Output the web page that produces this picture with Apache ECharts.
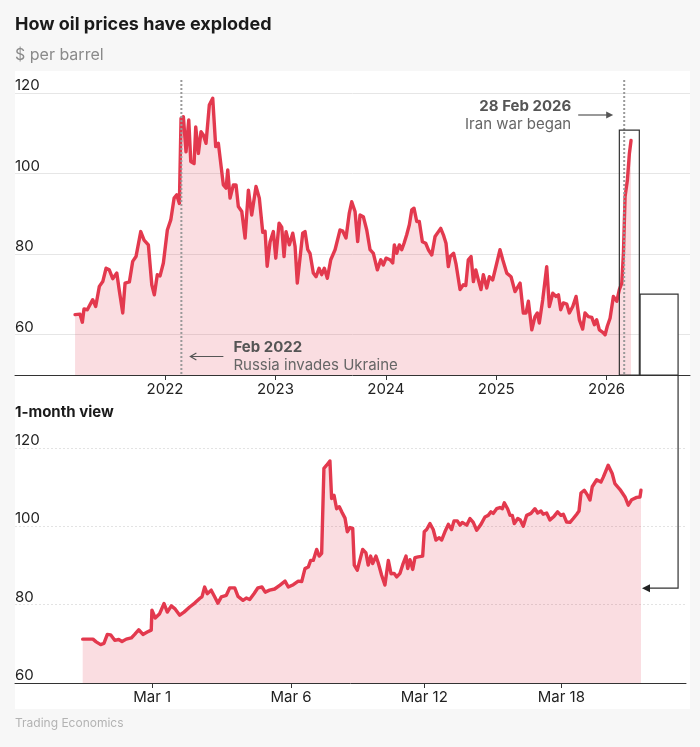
<!DOCTYPE html>
<html>
<head>
<meta charset="utf-8">
<script src="https://cdn.jsdelivr.net/npm/echarts@6/dist/echarts.min.js"></script>
<style>
html,body{margin:0;padding:0;background:#f7f7f7;}
#panel{position:absolute;left:15px;top:71px;width:675px;height:638px;background:#fff;}
#c{position:absolute;left:0;top:0;width:700px;height:747px;}
</style>
</head>
<body>
<div id="panel"></div>
<div id="c"></div>
<script>
// ---- Long view (5 years), x = decimal year, y = $ per barrel ----
const longYears = [
2021.185,2021.230,2021.251,2021.266,2021.296,2021.345,2021.372,2021.405,2021.436,2021.466,
2021.495,2021.526,2021.563,2021.586,2021.599,2021.617,2021.638,2021.677,2021.707,2021.737,
2021.780,2021.810,2021.849,2021.880,2021.903,2021.930,2021.955,2021.985,2022.021,2022.052,
2022.082,2022.106,2022.130,2022.145,2022.166,2022.190,2022.215,2022.233,2022.263,2022.278,
2022.302,2022.326,2022.347,2022.371,2022.401,2022.432,2022.459,2022.483,2022.528,2022.553,
2022.568,2022.589,2022.619,2022.643,2022.664,2022.695,2022.725,2022.755,2022.785,2022.824,
2022.854,2022.885,2022.906,2022.925,2022.951,2022.981,2023.003,2023.033,2023.057,2023.078,
2023.096,2023.126,2023.157,2023.178,2023.198,2023.247,2023.268,2023.293,2023.313,2023.343,
2023.368,2023.395,2023.419,2023.443,2023.470,2023.501,2023.540,2023.585,2023.610,2023.639,
2023.669,2023.691,2023.721,2023.745,2023.766,2023.796,2023.827,2023.857,2023.887,2023.923,
2023.954,2023.977,2024.002,2024.038,2024.062,2024.077,2024.099,2024.122,2024.144,2024.165,
2024.189,2024.213,2024.235,2024.255,2024.280,2024.303,2024.331,2024.361,2024.385,2024.416,
2024.446,2024.461,2024.497,2024.521,2024.545,2024.566,2024.583,2024.614,2024.636,2024.672,
2024.702,2024.724,2024.747,2024.772,2024.793,2024.815,2024.838,2024.862,2024.883,2024.914,
2024.938,2024.968,2025.005,2025.034,2025.059,2025.095,2025.134,2025.170,2025.216,2025.245,
2025.270,2025.291,2025.322,2025.351,2025.372,2025.390,2025.421,2025.457,2025.481,2025.512,
2025.542,2025.563,2025.584,2025.608,2025.639,2025.662,2025.693,2025.723,2025.753,2025.783,
2025.804,2025.834,2025.865,2025.889,2025.910,2025.934,2025.965,2025.986,2026.006,2026.031,
2026.061,2026.092,2026.115,2026.137,2026.152,2026.167,2026.188,2026.206,2026.221
];
const longPrices = [
65.0,65.1,63.1,66.4,66.2,68.7,67.0,72.0,73.2,76.5,
76.1,73.9,75.3,70.9,70.8,65.4,72.8,73.1,78.2,79.4,
85.6,83.5,82.3,72.4,69.9,74.9,74.6,77.8,86.0,88.5,
93.9,94.7,92.6,113.7,114.1,105.4,113.3,103.0,102.5,111.6,
105.0,110.4,109.6,107.5,117.0,118.7,106.7,107.5,97.2,96.4,
100.9,93.9,97.2,97.2,91.8,90.6,84.0,95.9,89.7,96.8,
93.9,85.4,85.7,77.0,83.0,85.6,79.0,87.7,86.7,79.4,
85.6,82.3,85.2,81.9,72.8,85.2,85.6,81.1,80.2,75.3,
74.4,76.5,74.9,76.5,74.0,78.6,81.1,86.0,85.7,84.0,
90.2,93.0,90.6,83.1,89.7,89.3,86.0,81.1,80.2,76.1,
78.6,77.3,79.0,78.6,77.8,82.3,80.2,82.3,81.1,82.7,
84.8,87.3,91.0,91.4,88.1,88.1,83.1,82.7,81.1,79.8,
84.4,84.8,86.4,84.8,82.7,76.9,79.4,80.2,77.5,71.2,
72.4,72.2,78.6,79.4,73.2,76.1,73.6,71.2,74.9,71.6,
74.4,73.6,77.8,81.1,78.6,75.3,74.4,70.7,72.8,65.4,
65.4,68.3,61.2,64.5,65.4,62.9,68.7,76.9,67.0,70.3,
69.5,69.9,66.2,67.9,67.6,65.4,67.0,69.5,63.7,61.4,
65.4,64.5,64.3,62.5,63.7,61.2,60.6,60.0,62.1,64.1,
69.5,68.3,71.2,72.8,80.2,94.3,98.4,105.0,108.2
];
const yearTicks = [2022, 2023, 2024, 2025, 2026];
const priceTicks = [60, 80, 100, 120];
const ukraineDate = 2022.148;   // 24 Feb 2022
const iranDate = 2026.159;      // 28 Feb 2026

// ---- 1-month view, x = trading hours since first point ----
const monthHours = [
0,7.2,9.5,12.6,14.9,17.3,19.6,22.5,25.3,27.6,30.6,34.1,36.5,39.3,42.3,45.3,48.1,48.6,50.9,54.0,
57.1,59.4,62.2,64.6,68.1,71.1,75.1,78.6,82.1,83.7,85.6,87.4,90.2,92.6,94.9,97.3,100.8,103.2,106.7,109.0,
112.5,114.8,117.2,120.2,123.0,125.8,128.1,131.2,134.7,138.5,142.0,144.3,147.8,151.3,153.7,156.0,158.3,160.0,161.8,164.2,
166.0,167.7,169.3,171.2,173.5,174.7,176.4,178.2,180.1,181.8,184.1,185.7,187.6,189.5,190.6,192.7,194.1,196.5,198.8,200.4,
202.1,203.5,205.8,207.4,209.8,212.1,214.5,216.4,218.5,220.4,222.7,224.6,226.9,228.1,229.7,231.6,233.2,235.5,238.6,239.7,
241.4,243.7,246.0,247.9,250.2,251.9,254.2,256.6,258.9,260.6,262.9,264.8,266.4,269.5,271.8,274.1,276.5,279.5,282.3,284.6,
286.5,288.1,290.5,292.8,294.5,295.9,298.2,299.9,301.5,302.9,305.3,307.1,309.2,311.6,314.6,317.4,319.3,321.6,323.2,325.6,
327.9,330.9,333.3,335.6,337.3,339.6,342.0,344.3,346.7,348.3,349.7,352.0,354.4,356.0,357.6,360.7,363.7,365.3,368.8,371.6,
373.5,377.1,380.6,382.9,385.3,388.8,391.1,391.8
];
const monthPrices = [
71.2,71.2,70.5,69.8,70.1,72.4,72.3,70.9,71.1,70.6,71.2,71.5,72.4,73.6,72.4,73.0,73.5,78.6,76.6,77.7,
80.3,78.1,79.7,79.0,77.3,78.1,79.4,80.4,81.6,82.0,84.5,82.8,83.7,82.0,80.4,82.0,82.4,84.3,84.3,82.1,
81.1,81.7,81.3,82.8,84.3,84.5,83.2,83.7,84.0,85.0,86.0,84.5,85.1,86.0,85.9,89.2,89.6,91.3,91.3,94.1,
92.4,93.1,114.8,115.6,116.7,107.1,107.9,104.5,105.0,103.7,102.1,98.6,99.7,99.5,90.1,88.8,89.0,94.1,93.2,90.1,
92.4,90.5,92.4,90.7,87.5,85.0,91.3,87.9,88.0,87.1,88.0,90.2,92.4,89.2,91.5,89.0,92.0,92.2,92.4,98.6,
99.2,100.7,99.2,96.5,97.1,96.5,98.6,100.5,99.2,101.4,101.4,100.3,101.0,100.3,102.0,101.0,99.0,100.5,102.4,102.8,
103.7,103.3,104.5,104.8,104.5,106.0,104.5,102.8,102.8,100.7,102.0,101.6,100.0,102.8,103.3,104.5,103.4,103.9,103.1,103.4,
101.6,102.6,103.7,102.8,103.1,101.1,101.0,102.0,103.1,103.9,108.5,109.2,107.9,106.7,110.1,111.9,111.3,112.5,115.6,113.5,
110.9,109.4,107.5,105.4,106.8,107.4,107.5,109.2
];
const monthTickPos = [48.8, 146.2, 239.7, 335.9];
const monthTickLabels = ['Mar 1', 'Mar 6', 'Mar 12', 'Mar 18'];
const monthPriceTicks = [60, 80, 100, 120];

const FONT = 'Inter, "Noto Sans", sans-serif';
const RED = '#e3394e';
const AREA = 'rgba(224,52,76,0.24)';

const chart = echarts.init(document.getElementById('c'));
chart.setOption({
  animation: false,
  textStyle: { fontFamily: FONT },
  grid: [
    { left: 15, right: 10, top: 93, bottom: 372 },
    { left: 15, right: 14, top: 448, bottom: 64 }
  ],
  xAxis: [
    {
      gridIndex: 0, type: 'value', min: 2020.641, max: 2026.755,
      axisLine: { show: true, onZero: false, lineStyle: { color: '#333', width: 1 } },
      axisTick: { show: true, customValues: yearTicks, length: 5, lineStyle: { color: '#333' } },
      axisLabel: { customValues: yearTicks, formatter: v => String(Math.round(v)), color: '#222', fontSize: 15, margin: 7, fontFamily: FONT },
      splitLine: { show: false }
    },
    {
      gridIndex: 1, type: 'value', min: -47.5, max: 423.4,
      axisLine: { show: true, onZero: false, lineStyle: { color: '#333', width: 1 } },
      axisTick: { show: true, customValues: monthTickPos, length: 5, lineStyle: { color: '#333' } },
      axisLabel: {
        customValues: monthTickPos,
        formatter: v => { const i = monthTickPos.findIndex(p => Math.abs(p - v) < 1e-6); return i >= 0 ? monthTickLabels[i] : ''; },
        color: '#222', fontSize: 15, margin: 7, fontFamily: FONT
      },
      splitLine: { show: false }
    }
  ],
  yAxis: [
    {
      gridIndex: 0, type: 'value', min: 50, max: 120,
      axisLine: { show: false },
      axisTick: { show: false, customValues: priceTicks },
      axisLabel: { customValues: priceTicks, inside: true, verticalAlign: 'bottom', margin: 0, padding: [0, 0, 0, 0], color: '#222', fontSize: 15, fontFamily: FONT },
      splitLine: { show: true, lineStyle: { color: '#e6e6e6', width: 1 } }
    },
    {
      gridIndex: 1, type: 'value', min: 60, max: 120, interval: 20,
      axisLine: { show: false },
      axisTick: { show: false },
      axisLabel: { inside: true, verticalAlign: 'bottom', margin: 0, padding: [0, 0, 0, 0], color: '#222', fontSize: 15, fontFamily: FONT },
      splitLine: { show: true, lineStyle: { color: '#e3e3e3', width: 1, type: [2, 2] } }
    }
  ],
  series: [
    {
      type: 'line', xAxisIndex: 0, yAxisIndex: 0,
      data: longYears.map((x, i) => [x, longPrices[i]]),
      showSymbol: false, symbol: 'none',
      lineStyle: { color: RED, width: 3.4, join: 'round', cap: 'round' },
      areaStyle: { color: AREA, origin: 'start' },
      z: 3
    },
    {
      type: 'line', xAxisIndex: 1, yAxisIndex: 1,
      data: monthHours.map((x, i) => [x, monthPrices[i]]),
      showSymbol: false, symbol: 'none',
      lineStyle: { color: RED, width: 3.4, join: 'round', cap: 'round' },
      areaStyle: { color: AREA, origin: 'start' },
      z: 3
    }
  ]
});

const px = (g, x, y) => chart.convertToPixel({ gridIndex: g }, [x, y]);
function txt(text, x, y, size, weight, color, align) {
  return {
    type: 'text', z: 20, silent: true,
    style: {
      text: text, x: x, y: y,
      font: (weight || 'normal') + ' ' + size + 'px ' + FONT,
      fill: color, align: align || 'left', textAlign: align || 'left',
      verticalAlign: 'middle', textVerticalAlign: 'middle'
    }
  };
}
const g = [];
// titles
g.push(txt('How oil prices have exploded', 15, 25, 18, 'bold', '#1a1a1a'));
g.push(txt('$ per barrel', 15, 55, 16, 'normal', '#8a8a8a'));
g.push(txt('1-month view', 15, 412, 15, 'bold', '#1a1a1a'));
g.push(txt('Trading Economics', 15, 723, 12, 'normal', '#b3b3b3'));

// event dotted lines
[ukraineDate, iranDate].forEach(d => {
  const b = px(0, d, 50), t = px(0, d, 123.2);
  g.push({ type: 'line', z: 15, silent: true,
    shape: { x1: b[0], y1: t[1], x2: b[0], y2: b[1] },
    style: { stroke: '#9a9a9a', lineWidth: 2, lineDash: [2, 2] } });
});

// Ukraine annotation
const uk = px(0, ukraineDate, 50)[0];
g.push({ type: 'line', z: 20, silent: true, shape: { x1: uk + 42, y1: 356.5, x2: uk + 9, y2: 356.5 }, style: { stroke: '#555', lineWidth: 1.2 } });
g.push({ type: 'polyline', z: 20, silent: true, shape: { points: [[uk + 15, 353], [uk + 9, 356.5], [uk + 15, 360]] }, style: { stroke: '#555', lineWidth: 1.2, fill: null } });
g.push(txt('Feb 2022', uk + 52, 347, 15, 'bold', '#555'));
g.push(txt('Russia invades Ukraine', uk + 52, 365, 15, 'normal', '#666'));

// Iran annotation
const ir = px(0, iranDate, 50)[0];
g.push({ type: 'line', z: 20, silent: true, shape: { x1: ir - 46, y1: 115, x2: ir - 16, y2: 115 }, style: { stroke: '#555', lineWidth: 1.2 } });
g.push({ type: 'polygon', z: 20, silent: true, shape: { points: [[ir - 11, 115], [ir - 18, 111.5], [ir - 18, 118.5]] }, style: { fill: '#555' } });
g.push(txt('28 Feb 2026', ir - 53, 106, 15, 'bold', '#555', 'right'));
g.push(txt('Iran war began', ir - 53, 124, 15, 'normal', '#666', 'right'));

// zoom boxes and connector
const b1a = px(0, 2026.115, 110.8), b1b = px(0, 2026.296, 50);
const b2a = px(0, 2026.303, 70.1), b2b = px(0, 2026.647, 50);
g.push({ type: 'rect', z: 16, silent: true, shape: { x: b2a[0], y: b2a[1], width: b2b[0] - b2a[0], height: b2b[1] - b2a[1] }, style: { fill: '#fff', stroke: '#333', lineWidth: 1.2 } });
g.push({ type: 'rect', z: 16, silent: true, shape: { x: b1a[0], y: b1a[1], width: b1b[0] - b1a[0], height: b1b[1] - b1a[1] }, style: { fill: null, stroke: '#333', lineWidth: 1.2 } });
const endPt = px(1, monthHours[monthHours.length - 1], 84.2);
const tipX = endPt[0] + 1, arrowY = endPt[1];
g.push({ type: 'polyline', z: 16, silent: true, shape: { points: [[b2b[0], b2b[1]], [b2b[0], arrowY], [tipX + 7, arrowY]] }, style: { stroke: '#333', lineWidth: 1.2, fill: null } });
g.push({ type: 'polygon', z: 16, silent: true, shape: { points: [[tipX, arrowY], [tipX + 8, arrowY - 4], [tipX + 8, arrowY + 4]] }, style: { fill: '#222' } });

chart.setOption({ graphic: { elements: g } });
</script>
</body>
</html>
